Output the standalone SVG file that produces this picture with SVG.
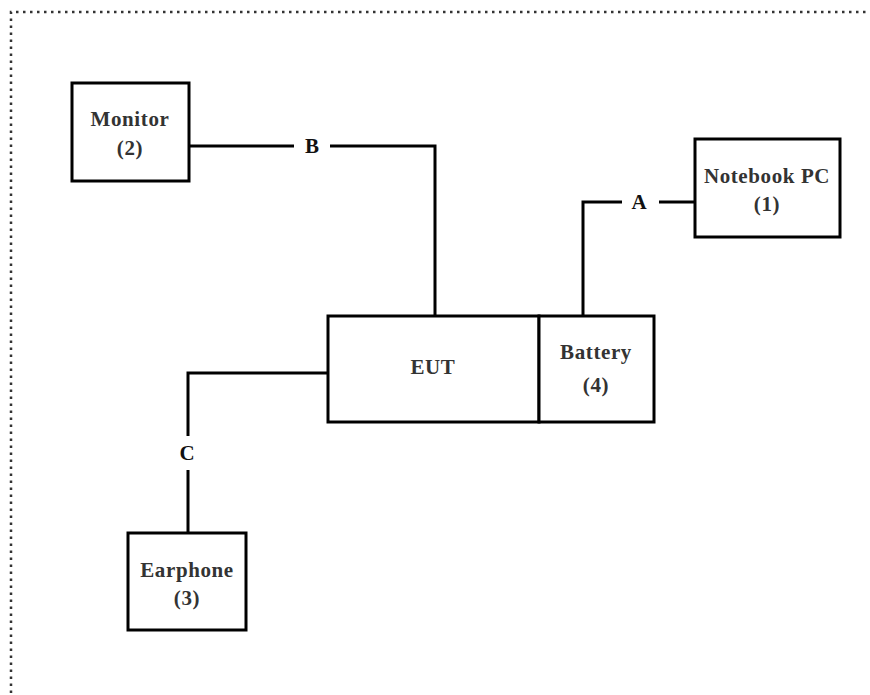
<svg xmlns="http://www.w3.org/2000/svg" width="870" height="695" viewBox="0 0 870 695">
<style>
.box{fill:#fff;stroke:#000;stroke-width:3}
.ln{fill:none;stroke:#000;stroke-width:3}
.t{font-family:"Liberation Serif","Times New Roman",serif;font-weight:bold;font-size:21px;letter-spacing:0.6px;fill:#333;text-anchor:middle}
.lbl{font-family:"Liberation Serif","Times New Roman",serif;font-weight:bold;font-size:21px;fill:#111;text-anchor:middle}
</style>
<rect width="870" height="695" fill="#fff"/>
<path d="M11,700 V12 H875" fill="none" stroke="#333" stroke-width="2.5" stroke-dasharray="2.5 4.5"/>
<g id="connectors">
<path class="ln" d="M189,146 H294 M330,146 H435 V316"/>
<path class="ln" d="M695,202 H659 M622,202 H583 V316"/>
<path class="ln" d="M328,373 H188 V436 M188,470 V533"/>
<text class="lbl" x="312" y="153">B</text>
<text class="lbl" x="639" y="209">A</text>
<text class="lbl" x="187" y="460">C</text>
</g>
<g id="monitor">
<rect class="box" x="72" y="83" width="117" height="98"/>
<text class="t" x="130" y="126">Monitor</text>
<text class="t" x="130" y="155">(2)</text>
</g>
<g id="notebook">
<rect class="box" x="695" y="139" width="145" height="98"/>
<text class="t" x="767" y="183">Notebook PC</text>
<text class="t" x="767" y="211">(1)</text>
</g>
<g id="eut">
<rect class="box" x="328" y="316" width="211" height="106"/>
<text class="t" x="433" y="374">EUT</text>
</g>
<g id="battery">
<rect class="box" x="539" y="316" width="115" height="106"/>
<text class="t" x="596" y="359">Battery</text>
<text class="t" x="596" y="392">(4)</text>
</g>
<g id="earphone">
<rect class="box" x="128" y="533" width="118" height="97"/>
<text class="t" x="187" y="577">Earphone</text>
<text class="t" x="187" y="605">(3)</text>
</g>
</svg>
